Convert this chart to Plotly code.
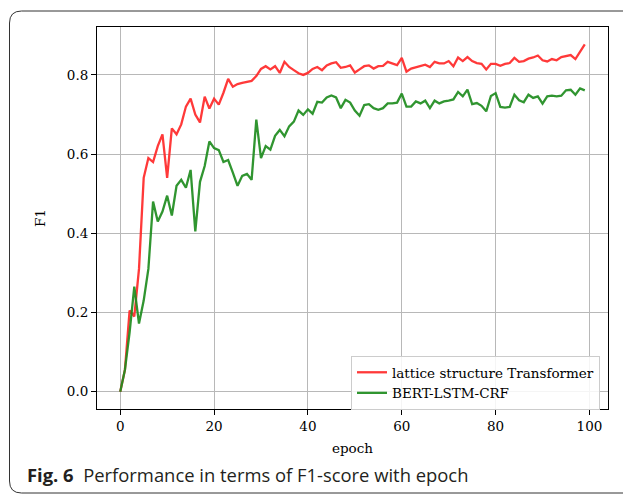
import plotly.graph_objects as go

epochs = list(range(100))

lattice_transformer = [
    0.0, 0.055, 0.205, 0.19, 0.31, 0.54, 0.59, 0.58, 0.62, 0.65,
    0.54, 0.665, 0.65, 0.675, 0.72, 0.74, 0.70, 0.68, 0.745, 0.715,
    0.74, 0.725, 0.755, 0.79, 0.77, 0.777, 0.78, 0.782, 0.785, 0.797,
    0.815, 0.822, 0.814, 0.822, 0.805, 0.833, 0.82, 0.812, 0.804, 0.80,
    0.805, 0.815, 0.82, 0.812, 0.824, 0.829, 0.832, 0.818, 0.82, 0.824,
    0.806, 0.814, 0.822, 0.824, 0.816, 0.822, 0.823, 0.833, 0.829, 0.825,
    0.843, 0.808, 0.816, 0.820, 0.822, 0.826, 0.820, 0.833, 0.829, 0.829,
    0.835, 0.822, 0.844, 0.835, 0.845, 0.835, 0.83, 0.828, 0.814, 0.828,
    0.828, 0.823, 0.828, 0.830, 0.843, 0.833, 0.835, 0.841, 0.844, 0.849,
    0.837, 0.834, 0.840, 0.837, 0.845, 0.847, 0.850, 0.840, 0.858, 0.877,
]

bert_lstm_crf = [
    0.0, 0.055, 0.15, 0.265, 0.172, 0.23, 0.31, 0.48, 0.43, 0.455,
    0.495, 0.445, 0.52, 0.535, 0.515, 0.56, 0.405, 0.53, 0.57, 0.632,
    0.615, 0.61, 0.58, 0.585, 0.553, 0.52, 0.545, 0.55, 0.535, 0.687,
    0.59, 0.62, 0.611, 0.646, 0.661, 0.645, 0.670, 0.682, 0.710, 0.699,
    0.713, 0.702, 0.732, 0.730, 0.743, 0.748, 0.743, 0.716, 0.737, 0.730,
    0.71, 0.697, 0.724, 0.726, 0.716, 0.712, 0.716, 0.728, 0.728, 0.730,
    0.753, 0.720, 0.720, 0.733, 0.728, 0.735, 0.716, 0.735, 0.728, 0.733,
    0.735, 0.738, 0.757, 0.746, 0.763, 0.726, 0.729, 0.722, 0.708, 0.747,
    0.754, 0.719, 0.7175, 0.719, 0.75, 0.736, 0.731, 0.75, 0.742, 0.746,
    0.7275, 0.746, 0.7475, 0.746, 0.7475, 0.761, 0.7625, 0.75, 0.766, 0.761,
]

x_ticks = [0, 20, 40, 60, 80, 100]
y_ticks = [0.0, 0.2, 0.4, 0.6, 0.8]
y_tick_labels = ["0.0", "0.2", "0.4", "0.6", "0.8"]

W, H = 623, 494
L, R, T, B = 97, 15, 27, 85
PW, PH = W - L - R, H - T - B


def px(x):
    return (x - L) / PW


def py(y):
    return (H - B - y) / PH


SERIF = "DejaVu Serif"
FS = 13.5

fig = go.Figure()
fig.add_trace(go.Scatter(x=epochs, y=lattice_transformer, mode="lines",
                         name="lattice structure Transformer",
                         line=dict(color="rgba(255,40,40,0.92)", width=2.3)))
fig.add_trace(go.Scatter(x=epochs, y=bert_lstm_crf, mode="lines",
                         name="BERT-LSTM-CRF",
                         line=dict(color="rgba(30,140,30,0.92)", width=2.3)))

axis_common = dict(
    showline=True, linecolor="black", linewidth=1, mirror=True,
    ticks="outside", ticklen=5, tickwidth=1, tickcolor="black",
    showgrid=True, gridcolor="#b8b8b8", gridwidth=1, zeroline=False,
    tickfont=dict(family=SERIF, size=FS, color="black"),
)

fig.update_xaxes(range=[-4.95, 103.95], tickvals=x_ticks,
                 title=dict(text="epoch", font=dict(family=SERIF, size=FS, color="black"), standoff=10),
                 **axis_common)
fig.update_yaxes(range=[-0.0438, 0.921], tickvals=y_ticks, ticktext=y_tick_labels,
                 title=dict(text="F1", font=dict(family=SERIF, size=FS, color="black"), standoff=18),
                 **axis_common)

frame_path = (
    f"M {px(9.5)},{py(23)} Q {px(9.5)},{py(11)} {px(21.5)},{py(11)} "
    f"L {px(660)},{py(11)} L {px(660)},{py(493)} L {px(21.5)},{py(493)} "
    f"Q {px(9.5)},{py(493)} {px(9.5)},{py(481)} Z"
)

fig.update_layout(
    width=W, height=H,
    margin=dict(l=L, r=R, t=T, b=B, autoexpand=False),
    paper_bgcolor="white", plot_bgcolor="white",
    showlegend=True,
    legend=dict(x=px(600), y=py(356), xanchor="right", yanchor="top",
                bgcolor="rgba(255,255,255,0.85)", bordercolor="#cccccc", borderwidth=1,
                font=dict(family=SERIF, size=FS, color="black"), itemwidth=30),
    shapes=[dict(type="path", path=frame_path, xref="paper", yref="paper",
                 line=dict(color="#333333", width=1), fillcolor="rgba(0,0,0,0)", layer="below")],
    annotations=[dict(
        text="<b>Fig. 6</b>  Performance in terms of F1-score with epoch",
        xref="paper", yref="paper", x=px(25), y=py(474), xanchor="left", yanchor="middle",
        showarrow=False, font=dict(family="Open Sans", size=18.4, color="#231f20"))],
)

fig.write_html("out.html")
